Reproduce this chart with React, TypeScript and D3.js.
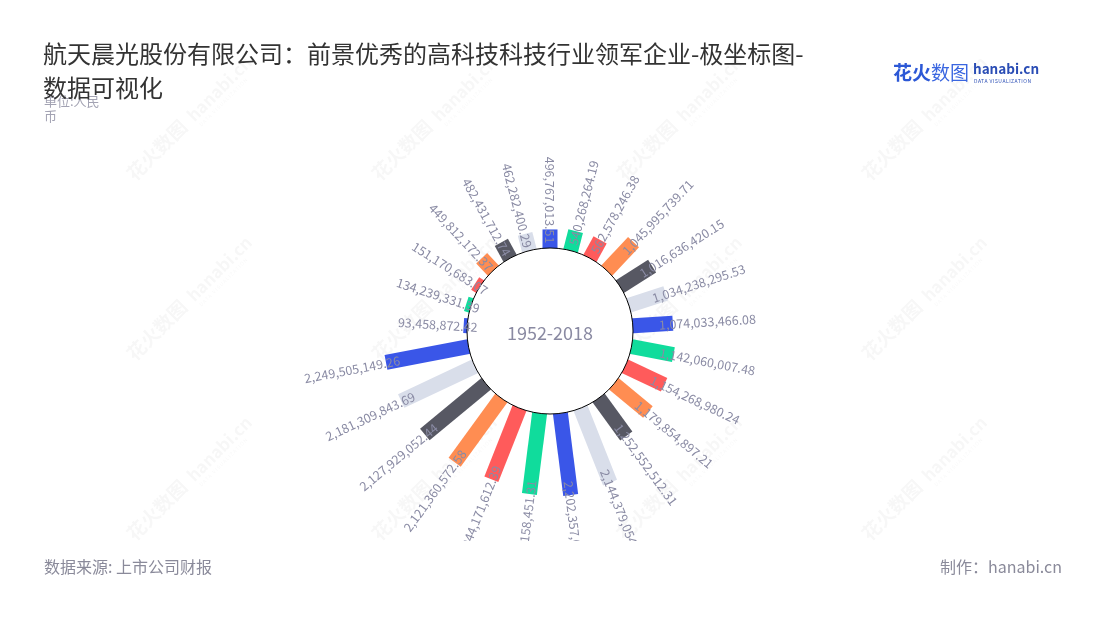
import React, { useEffect, useRef } from 'react';
import * as d3 from 'd3';

const titleLines = ['航天晨光股份有限公司：前景优秀的高科技科技行业领军企业-极坐标图-', '数据可视化'];
const unitLines = ['单位:人民', '币'];
const centerLabel = '1952-2018';
const sourceText = '数据来源: 上市公司财报';
const makerText = '制作：hanabi.cn';

const values: number[] = [
  93458872.42, 134239331.39, 151170683.07, 449812172.37, 482431712.74, 462282400.29,
  496767013.51, 540268264.19, 562578246.38, 1045995739.71, 1016636420.15, 1034238295.53,
  1074033466.08, 1142060007.48, 1154268980.24, 1179854897.21, 1252552512.31, 2144379054.52,
  2202357006.47, 2176158451.31, 2044171612.39, 2121360572.58, 2127929052.44, 2181309843.69,
  2249505149.26,
];
const palette = ['#3A56E8', '#10DC9C', '#FF5B5B', '#FF8D52', '#575863', '#D9DEEA'];

const W = 1100;
const H = 620;
const FONT = '"Noto Sans CJK SC", "Noto Sans", sans-serif';

export default function App() {
  const ref = useRef<SVGSVGElement | null>(null);

  useEffect(() => {
    document.body.style.margin = '0';
    const svg = d3.select(ref.current);
    svg.selectAll('*').remove();

    const cx = 550;
    const cy = 331;
    const innerR = 83;

    const defs = svg.append('defs');
    defs.append('clipPath').attr('id', 'plotClip')
      .append('rect').attr('x', 0).attr('y', 0).attr('width', W).attr('height', 541);

    const angle = d3.scaleBand<number>()
      .domain(values.map((_, i) => i))
      .range([-93.6, 266.4]);
    const radius = d3.scaleLinear().domain([0, 2249505149.26]).range([innerR, 167]);
    const fmt = d3.format(',.2f');

    // watermarks
    const wm = svg.append('g').attr('opacity', 0.035).attr('fill', '#000');
    for (let j = 0; j < 3; j++) {
      for (let k = 0; k < 4; k++) {
        const g = wm.append('g').attr('transform', `translate(${135 + 245 * k},${182 + 180 * j}) rotate(-45)`);
        g.append('text').attr('font-family', FONT).attr('font-size', 19).attr('font-weight', 700).text('花火数图');
        g.append('text').attr('x', 84).attr('font-family', FONT).attr('font-size', 17).attr('font-weight', 700).text('hanabi.cn');
        g.append('text').attr('x', 86).attr('y', 8).attr('font-family', FONT).attr('font-size', 5).attr('letter-spacing', 1).text('DATA VISUALIZATION');
      }
    }

    const plot = svg.append('g').attr('clip-path', 'url(#plotClip)');

    // bars
    plot.selectAll('rect.bar').data(values).enter().append('rect')
      .attr('class', 'bar')
      .attr('x', -7.5)
      .attr('width', 15)
      .attr('y', d => -radius(d))
      .attr('height', d => radius(d) - 40)
      .attr('fill', (_, i) => palette[i % palette.length])
      .attr('transform', (_, i) => `translate(${cx},${cy}) rotate(${angle(i)! + angle.bandwidth() / 2})`);

    // center circle
    plot.append('circle').attr('cx', cx).attr('cy', cy).attr('r', innerR)
      .attr('fill', '#fff').attr('stroke', '#000').attr('stroke-width', 1);
    plot.append('text').attr('x', cx).attr('y', cy + 1)
      .attr('text-anchor', 'middle').attr('dominant-baseline', 'central')
      .attr('font-family', FONT).attr('font-size', 18).attr('fill', '#8A8AA2')
      .text(centerLabel);

    // labels
    values.forEach((d, i) => {
      let th = angle(i)! + angle.bandwidth() / 2;
      if (th > 180) th -= 360;
      const rl = radius(d) - 14;
      const rad = (th * Math.PI) / 180;
      const x = cx + rl * Math.sin(rad);
      const y = cy - rl * Math.cos(rad);
      const right = th > 0.001 && th < 180;
      const rot = right ? th - 90 : th + 90;
      plot.append('text')
        .attr('transform', `translate(${x},${y}) rotate(${rot})`)
        .attr('text-anchor', right ? 'start' : 'end')
        .attr('dominant-baseline', 'central')
        .attr('font-family', FONT).attr('font-size', 12.5).attr('fill', '#8A8BA4')
        .text(fmt(d));
    });

    // unit (under title)
    unitLines.forEach((t, i) => {
      svg.append('text').attr('x', 44).attr('y', 106 + i * 15)
        .attr('font-family', FONT).attr('font-size', 13).attr('fill', '#A3A3B3').text(t);
    });

    // title
    titleLines.forEach((t, i) => {
      svg.append('text').attr('x', 43).attr('y', 63 + i * 34)
        .attr('font-family', FONT).attr('font-size', 24).attr('fill', '#333').text(t);
    });

    // logo
    const logo = svg.append('g');
    logo.append('text').attr('x', 893).attr('y', 80).attr('font-family', FONT)
      .attr('font-size', 19).attr('font-weight', 700).attr('fill', '#2C58D6').text('花火');
    logo.append('text').attr('x', 931).attr('y', 80).attr('font-family', FONT)
      .attr('font-size', 19).attr('fill', '#3A66E0').text('数图');
    logo.append('text').attr('x', 973).attr('y', 74).attr('font-family', FONT)
      .attr('font-size', 13.5).attr('font-weight', 700).attr('fill', '#2A4DB5').text('hanabi.cn');
    logo.append('text').attr('x', 974).attr('y', 83).attr('font-family', FONT)
      .attr('font-size', 5).attr('letter-spacing', 0.5).attr('fill', '#2A4DB5').text('DATA VISUALIZATION');

    // footer
    svg.append('text').attr('x', 44).attr('y', 573).attr('font-family', FONT)
      .attr('font-size', 16).attr('fill', '#8A8A9A').text(sourceText);
    svg.append('text').attr('x', 1062).attr('y', 573).attr('text-anchor', 'end').attr('font-family', FONT)
      .attr('font-size', 16).attr('fill', '#8A8A9A').text(makerText);
  }, []);

  return (
    <svg ref={ref} width={W} height={H} style={{ position: 'absolute', left: 0, top: 0, background: '#fff' }} />
  );
}
